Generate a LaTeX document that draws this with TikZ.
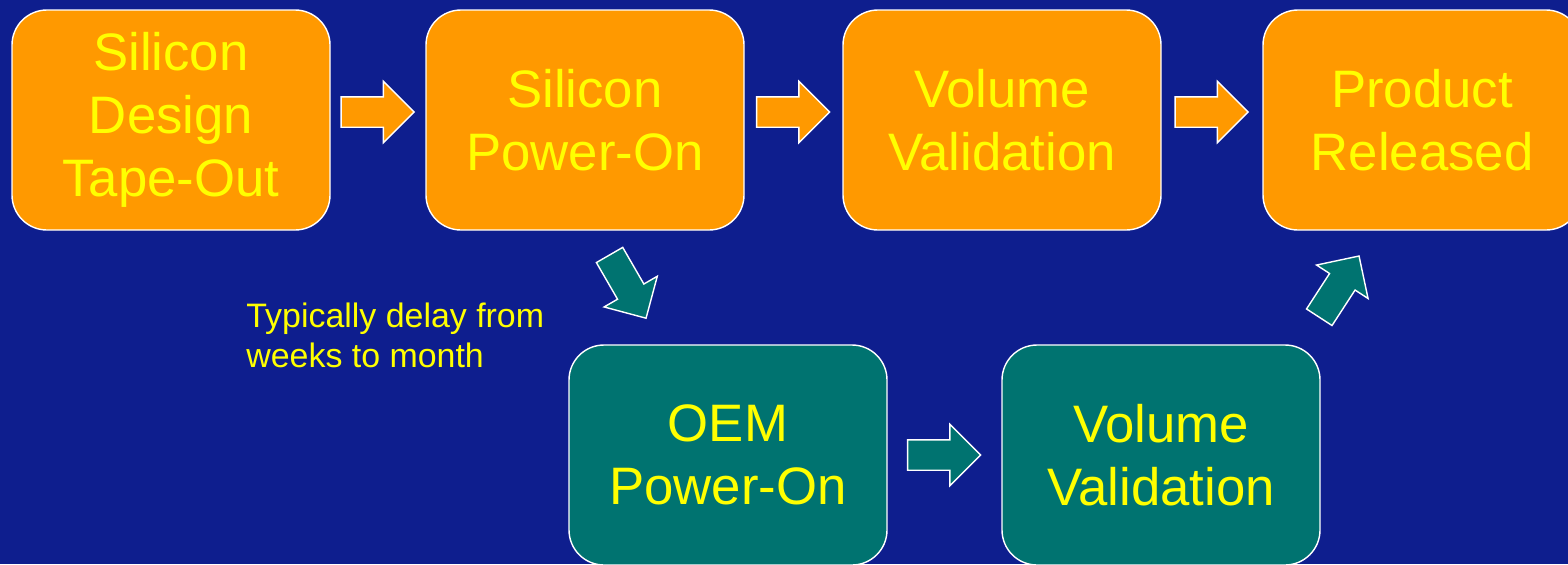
\documentclass[tikz,border=0pt]{standalone}
\usepackage{fontspec}
\setmainfont{Liberation Sans}
\usetikzlibrary{shapes.arrows,calc}

\definecolor{slidebg}{RGB}{14,30,142}
\definecolor{siorange}{RGB}{255,153,0}
\definecolor{oemteal}{RGB}{0,115,112}
\definecolor{txtyellow}{RGB}{255,255,0}

\tikzset{
  stage/.style={draw=white, line width=0.8pt, rounded corners=0.7cm,
    minimum width=6.36cm, minimum height=4.4cm, align=center,
    text=txtyellow, font=\fontsize{30}{36}\selectfont},
  sistage/.style={stage, fill=siorange},
  oemstage/.style={stage, fill=oemteal},
  blockarr/.style={single arrow, draw=white, line width=0.8pt,
    inner xsep=0pt, inner ysep=0.29cm, text height=0pt, text depth=0pt,
    minimum height=1.46cm, minimum width=1.2cm, single arrow head extend=0.31cm},
  siarr/.style={blockarr, fill=siorange},
  oemarr/.style={blockarr, fill=oemteal},
}

\begin{document}
\begin{tikzpicture}
\fill[slidebg] (0,0) rectangle (31.36,-11.28);
\useasboundingbox (0,0) rectangle (31.36,-11.28);

% silicon flow
\node[sistage] (tapeout) at (3.42,-2.4) {Silicon\\Design\\Tape-Out};
\node[sistage] (sipower) at (11.7,-2.4) {Silicon\\Power-On};
\node[sistage] (sivalid) at (20.04,-2.4) {Volume\\Validation};
\node[sistage] (release) at (28.44,-2.4) {Product\\Released};

% oem flow
\node[oemstage] (oempower) at (14.56,-9.1) {OEM\\Power-On};
\node[oemstage] (oemvalid) at (23.22,-9.1) {Volume\\Validation};

% block arrows
\node[siarr] (a1) at ($(tapeout.east)!0.5!(sipower.west)+(-0.16,0.16)$) {};
\node[siarr] (a2) at ($(sipower.east)!0.5!(sivalid.west)+(-0.16,0.16)$) {};
\node[siarr] (a3) at ($(sivalid.east)!0.5!(release.west)+(-0.16,0.16)$) {};
\node[oemarr] (a4) at ($(oempower.east)!0.5!(oemvalid.west)+(-0.16,0)$) {};
\node[oemarr, rotate=-60] (down) at (12.48,-5.6) {};
\node[oemarr, rotate=57] (up) at (26.7,-5.86) {};

\node[text=txtyellow, align=left, anchor=north west, inner sep=0pt,
  font=\fontsize{19.3}{22.7}\selectfont] (delay) at (4.92,-6.06)
  {Typically delay from\\weeks to month};
\end{tikzpicture}
\end{document}
